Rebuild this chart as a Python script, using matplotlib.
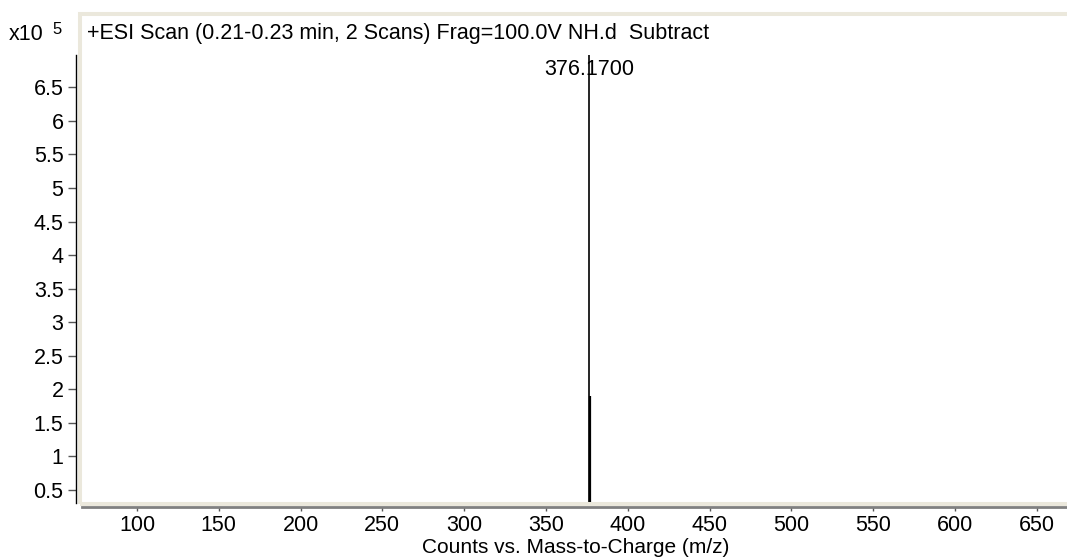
import matplotlib
matplotlib.use("Agg")
import matplotlib.pyplot as plt
from matplotlib.patches import Rectangle

plt.rcParams['font.family'] = ['Liberation Sans', 'DejaVu Sans']

# spectrum peaks (m/z, counts)
mz = [376.17, 377.17]
counts = [698000, 189600]
scale = 1e5
peak_label = "376.1700"

title = "+ESI Scan (0.21-0.23 min, 2 Scans) Frag=100.0V NH.d  Subtract"
xlabel = "Counts vs. Mass-to-Charge (m/z)"
xticks = [100, 150, 200, 250, 300, 350, 400, 450, 500, 550, 600, 650]
yticks = [0.5, 1, 1.5, 2, 2.5, 3, 3.5, 4, 4.5, 5, 5.5, 6, 6.5]

W, H = 1067, 558
FS = 15.5
fig = plt.figure(figsize=(W / 100, H / 100), dpi=100)
ax = fig.add_axes([82 / W, 1 - 502 / H, (W - 82) / W, (502 - 16) / H])

ymin, ymax = 0.321, 7.562
ax.set_xlim(66.4, 668.5)
ax.set_ylim(ymin, ymax)

y = [c / scale for c in counts]
ax.vlines(mz[1], ymin, y[1], color='black', lw=1.6)
ax.vlines(mz[0], ymin, y[0], color='black', lw=1.2)

ax.annotate(peak_label, xy=(mz[0], y[0]), xytext=(0, -14.5), textcoords='offset points',
            ha='center', va='baseline', fontsize=FS)

ax.spines['top'].set_visible(False)
ax.spines['right'].set_visible(False)
ax.spines['left'].set_position(('outward', 4))
ax.spines['left'].set_bounds(ymin - 0.02, y[0])
ax.spines['left'].set_color('black')
ax.spines['left'].set_linewidth(1.0)
ax.spines['bottom'].set_position(('outward', 3.6))
ax.spines['bottom'].set_color('#808080')
ax.spines['bottom'].set_linewidth(2.0)

ax.set_xticks(xticks)
ax.set_yticks(yticks)
ax.set_yticklabels(['%g' % t for t in yticks])
ax.tick_params(axis='y', length=5.8, width=1, color='#555555', pad=3.5, labelsize=FS)
ax.tick_params(axis='x', length=3.2, width=1, color='#555555', pad=2.5, labelsize=FS)

# beige frame around the plot area
fig.patches.append(Rectangle((80 / W, 1 - 503.5 / H), 1.05, (503.5 - 14) / H,
                             transform=fig.transFigure, fill=False,
                             edgecolor='#ebe8dc', lw=2.9, zorder=1))

fig.text(87 / W, 1 - 33 / H, title, ha='left', va='center', fontsize=FS)
fig.text(9 / W, 1 - 35 / H, "x10", ha='left', va='center', fontsize=FS)
fig.text(52 / W, 1 - 30 / H, "5", ha='left', va='center', fontsize=12)
fig.text(576 / W, 1 - 553 / H, xlabel, ha='center', va='baseline', fontsize=15)

fig.savefig("out.png", dpi=100)
